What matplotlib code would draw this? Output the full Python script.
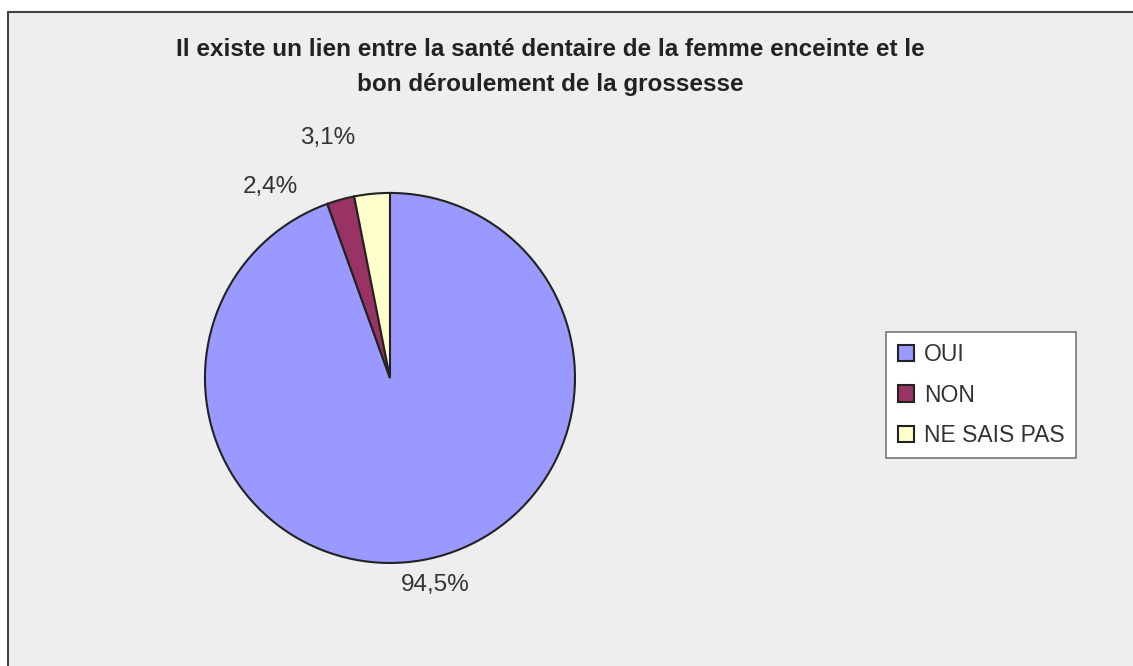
import matplotlib.pyplot as plt
from matplotlib.patches import Rectangle

plt.rcParams['font.family'] = ['Liberation Sans', 'DejaVu Sans']

categories = ['OUI', 'NON', 'NE SAIS PAS']
values = [94.5, 2.4, 3.1]
labels = ['94,5%', '2,4%', '3,1%']
colors = ['#9999FF', '#993366', '#FFFFCC']
# label positions (relative to pie radius)
label_pos = [(0.243, -1.119), (-0.649, 1.032), (-0.335, 1.297)]

fig = plt.figure(figsize=(11.33, 6.66), dpi=100)
fig.patch.set_facecolor('white')
bg = Rectangle((8 / 1133, -0.1), 1.2, 1 - 12 / 666 + 0.1,
               transform=fig.transFigure, facecolor='#EEEEEE',
               edgecolor='#444444', linewidth=1.5, zorder=-10)
fig.patches.append(bg)

ax = fig.add_axes([0.1809, 0.1547, 0.3266, 0.5556])
ax.set_facecolor('none')
ax.set_zorder(5)
wedges, texts = ax.pie(values, colors=colors, startangle=90, counterclock=False,
                       labels=labels, labeldistance=1.15,
                       wedgeprops=dict(edgecolor='#222222', linewidth=1.5),
                       textprops=dict(fontsize=17.5, color='#333333'))
for t, (x, y) in zip(texts, label_pos):
    t.set_position((x, y))
    t.set_ha('center')
    t.set_va('center')
ax.set_xlim(-1, 1)
ax.set_ylim(-1, 1)
ax.set_aspect('equal')

fig.text(550 / 1133, 1 - 67 / 666,
         'Il existe un lien entre la santé dentaire de la femme enceinte et le\n'
         'bon déroulement de la grossesse',
         ha='center', va='center', fontsize=17.5, fontweight='bold',
         color='#222222', linespacing=1.65)

leg = fig.legend(wedges, categories, loc='center',
                 bbox_to_anchor=(981 / 1133, 1 - 395 / 666),
                 fontsize=16.5, frameon=True, fancybox=False,
                 edgecolor='#777777', facecolor='white', framealpha=1,
                 handlelength=0.7, handleheight=0.7, labelspacing=0.75,
                 borderpad=0.5, handletextpad=0.45, borderaxespad=0)
leg.set_zorder(6)
leg.get_frame().set_linewidth(1.2)
for txt in leg.get_texts():
    txt.set_color('#333333')

fig.savefig('out.png', dpi=100)
